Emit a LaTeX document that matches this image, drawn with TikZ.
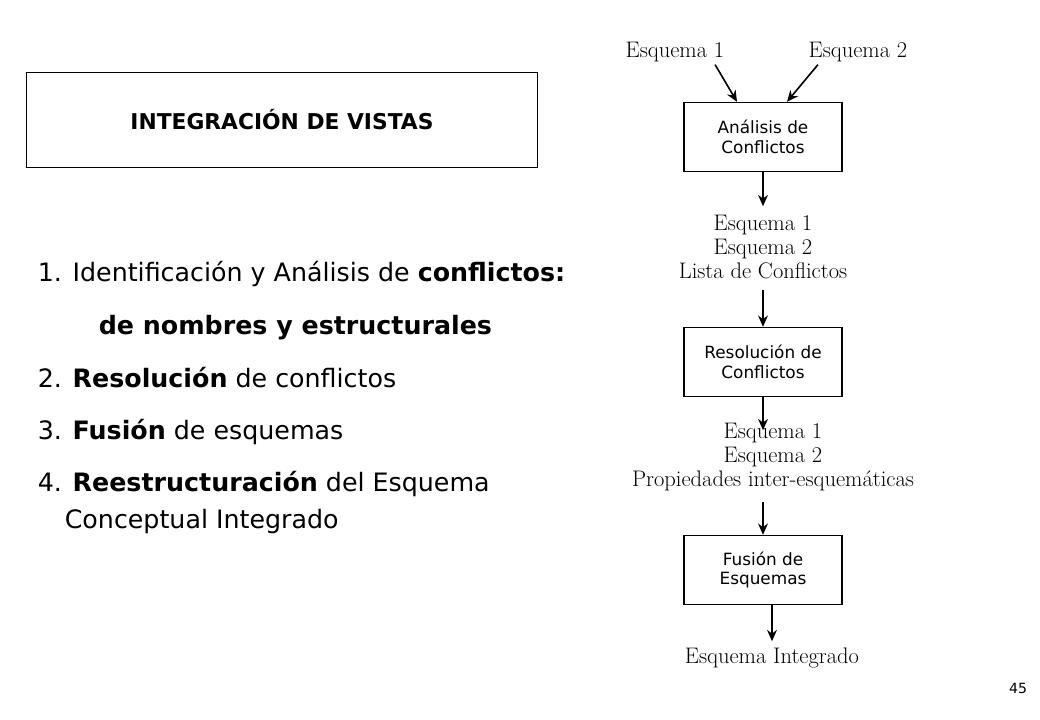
\documentclass[tikz,border=0pt]{standalone}
\usepackage{fontspec}
\setsansfont{DejaVu Sans}
\usetikzlibrary{arrows.meta}
\begin{document}
\begin{tikzpicture}[x=0.025cm, y=-0.025cm, line width=0.04cm,
    every node/.style={inner sep=0pt},
    proc/.style={draw, minimum width=3.95cm, minimum height=1.72cm, align=center, font=\sffamily\fontsize{12}{14}\selectfont},
    esq/.style={align=center, font=\fontsize{16}{17}\selectfont},
    item/.style={anchor=base west, font=\sffamily\fontsize{18}{20}\selectfont},
    flow/.style={-{Stealth[length=8pt,width=7pt]}}]
    \useasboundingbox (0,0) rectangle (1040,720);

    \node[draw, line width=0.02cm, minimum width=12.78cm, minimum height=2.38cm, font=\sffamily\bfseries\fontsize{15.5}{18}\selectfont] (T) at (282,120) {INTEGRACIÓN DE VISTAS};

    \node[item] (L1) at (37,282) {1. Identificación y Análisis de \textbf{conflictos:}};
    \node[item] (L1b) at (98,335) {\textbf{de nombres y estructurales}};
    \node[item] (L2) at (37,388) {2. \textbf{Resolución} de conflictos};
    \node[item] (L3) at (37,440) {3. \textbf{Fusión} de esquemas};
    \node[item] (L4) at (37,492) {4. \textbf{Reestructuración} del Esquema};
    \node[item] (L4b) at (64,529) {Conceptual Integrado};

    \node[esq] (E1) at (675,52) {Esquema 1};
    \node[esq] (E2) at (858,52) {Esquema 2};
    \node[proc] (A) at (763,137) {Análisis de\\Conflictos};
    \node[esq] (S1) at (763,247) {Esquema 1\\Esquema 2\\Lista de Conflictos};
    \node[proc] (R) at (763,362) {Resolución de\\Conflictos};
    \node[esq] (S2) at (773,457) {Esquema 1\\Esquema 2\\Propiedades inter-esquemáticas};
    \node[proc] (F) at (763,570) {Fusión de\\Esquemas};
    \node[esq] (S3) at (772,658) {Esquema Integrado};

    \node[font=\sffamily\fontsize{10}{12}\selectfont] (P) at (1018,688) {45};

    \draw[flow] (E1.south east) ++(-10,2) coordinate (a1) -- (A.north -| 737,0);
    \draw[flow] (E2.south west) ++(10,2) coordinate (a2) -- (A.north -| 787,0);
    \draw[flow] (A.south) -- ++(0,34);
    \draw[flow] (S1.south) ++(0,10) -- (R.north);
    \draw[flow] (R.south) -- ++(0,33);
    \draw[flow] (S2.south -| R) ++(0,10) -- (F.north);
    \draw[flow] (F.south -| S3) -- ++(0,36);
\end{tikzpicture}
\end{document}
